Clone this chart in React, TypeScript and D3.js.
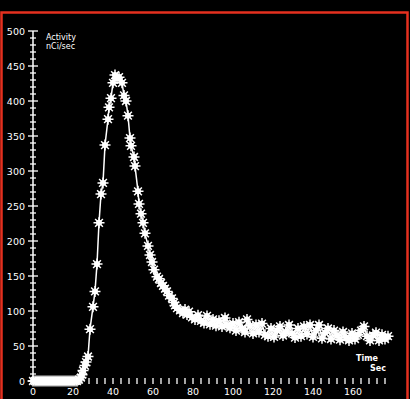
import React, { useEffect } from "react";
import * as d3 from "d3";

// Activity curve (time in sec, activity in nCi/sec)
const times = [
  0, 1, 2, 3, 4, 5, 6, 7, 8, 9, 10, 11, 12, 13, 14, 15, 16, 17, 18, 19, 20, 21, 22,
  23, 24, 24.5, 25, 26, 26.5, 27.5, 28.5, 30, 31, 32, 33, 34, 35, 36, 37.5, 38, 39,
  40, 41, 42, 43, 44.5, 45.5, 46.5, 47.5, 48.5, 49, 50.5, 51, 52.5, 53, 54, 55, 56,
  57.5, 58.5, 59.5, 60.5, 62, 63, 64, 65, 66, 67, 68, 69.5, 70.5, 71, 72, 73.5, 75,
  76, 77, 78, 79.5, 81, 82.5, 84, 85.5, 87, 88.5, 90, 91.5, 93, 94.5, 96, 97, 98.5,
  100, 101.5, 103, 104.5, 106, 107, 108.5, 110, 111.5, 113, 114.5, 116, 117.5, 119,
  120.5, 122, 123.5, 125, 126.5, 128, 129.5, 131, 132.5, 134, 135.5, 137, 138.5, 140,
  141.5, 143, 144.5, 146, 147.5, 149, 150.5, 152, 153.5, 155, 156.5, 158, 159.5, 161,
  162.5, 164, 165.5, 167, 168.5, 170, 171.5, 173, 174.5, 176, 177.5,
];
const activity = [
  0, 0, 0, 0, 0, 0, 0, 0, 0, 0, 0, 0, 0, 0, 0, 0, 0, 0, 0, 0, 0, 0, 0,
  2, 5, 9, 15, 22, 27, 35, 74, 106, 128, 167, 226, 267, 283, 337, 374, 391, 404,
  426, 437, 432, 434, 426, 408, 400, 379, 347, 336, 320, 307, 271, 253, 239, 226, 211,
  193, 180, 170, 159, 149, 146, 140, 136, 132, 128, 122, 118, 112, 108, 104, 101, 97,
  102, 95, 99, 91, 88, 94, 86, 83, 93, 81, 88, 79, 86, 78, 90, 80, 76,
  82, 72, 84, 75, 70, 88, 79, 68, 80, 70, 82, 66, 64, 75,
  63, 72, 78, 65, 70, 80, 68, 62, 75, 64, 78, 67, 80, 63,
  72, 80, 61, 69, 75, 60, 72, 65, 59, 70, 62, 58, 68, 60,
  66, 72, 78, 64, 58, 65, 69, 58, 66, 60, 64,
];

const xLabels = [0, 20, 40, 60, 80, 100, 120, 140, 160];
const yLabels = [0, 50, 100, 150, 200, 250, 300, 350, 400, 450, 500];

const W = 410;
const H = 399;

const x = d3.scaleLinear().domain([0, 160]).range([33, 353]);
const y = d3.scaleLinear().domain([0, 500]).range([381, 31]);

const points: [number, number][] = times.map((t, i) => [t, activity[i]]);

// 8-spoke asterisk marker
const star = (() => {
  const r = 5.5;
  const p = d3.path();
  for (let k = 0; k < 4; k++) {
    const a = (k * Math.PI) / 4;
    p.moveTo(-r * Math.cos(a), -r * Math.sin(a));
    p.lineTo(r * Math.cos(a), r * Math.sin(a));
  }
  return p.toString();
})();

const App = () => {
  useEffect(() => {
    document.body.style.margin = "0";
    document.body.style.background = "#000";
  }, []);

  const line = d3
    .line<[number, number]>()
    .x((d) => x(d[0]))
    .y((d) => y(d[1]));

  const xTicks = d3.range(0, 177, 4);
  const yTicks = d3.range(0, 501, 10);
  const font = "'DejaVu Sans', sans-serif";

  return (
    <svg width={W} height={H} style={{ display: "block", background: "#000" }}>
      <rect x={0} y={0} width={W} height={H} fill="#000" />
      {/* red frame */}
      <rect x={1.5} y={12.5} width={406} height={395} fill="none" stroke="#e5301f" strokeWidth={2.5} />

      {/* y axis */}
      <line x1={33} x2={33} y1={y(500)} y2={y(0)} stroke="#fff" strokeWidth={1.5} />
      {yTicks.map((v) => {
        const major = v % 50 === 0;
        return (
          <line
            key={v}
            x1={major ? 28 : 30}
            x2={major ? 38 : 36}
            y1={y(v)}
            y2={y(v)}
            stroke="#fff"
            strokeWidth={1.3}
          />
        );
      })}
      {yLabels.map((v) => (
        <text
          key={v}
          x={25}
          y={y(v) + 3.5}
          fill="#fff"
          fontSize={9.5}
          fontFamily={font}
          textAnchor="end"
        >
          {v}
        </text>
      ))}

      {/* x axis ticks */}
      {xTicks.map((t) => (
        <line key={t} x1={x(t)} x2={x(t)} y1={378} y2={384} stroke="#fff" strokeWidth={1.3} />
      ))}
      {xLabels.map((t) => (
        <text
          key={t}
          x={x(t)}
          y={395}
          fill="#fff"
          fontSize={9.5}
          fontFamily={font}
          textAnchor="middle"
        >
          {t}
        </text>
      ))}

      {/* axis titles */}
      <text x={46} y={40} fill="#fff" fontSize={8} fontFamily={font}>
        Activity
      </text>
      <text x={46} y={49} fill="#fff" fontSize={8} fontFamily={font}>
        nCi/sec
      </text>
      <text x={378} y={361} fill="#fff" fontSize={8} fontFamily={font} fontWeight="bold" textAnchor="end">
        Time
      </text>
      <text x={386} y={371} fill="#fff" fontSize={8} fontFamily={font} fontWeight="bold" textAnchor="end">
        Sec
      </text>

      {/* curve */}
      <path d={line(points) ?? ""} fill="none" stroke="#fff" strokeWidth={1.5} />
      {points.map((d, i) => (
        <g key={i} transform={`translate(${x(d[0])},${y(d[1])})`}>
          <circle r={3} fill="#fff" />
          <path d={star} stroke="#fff" strokeWidth={1.5} />
        </g>
      ))}
    </svg>
  );
};

export default App;
